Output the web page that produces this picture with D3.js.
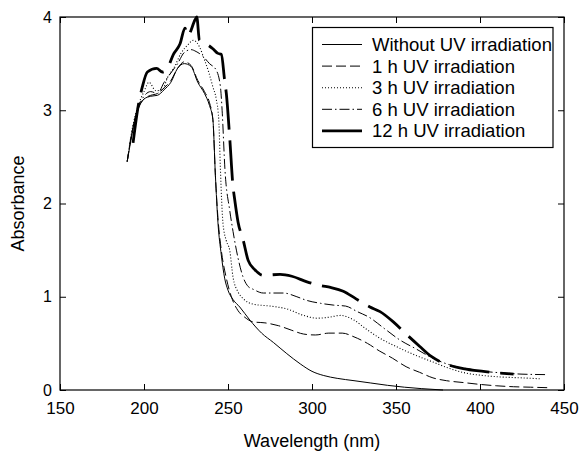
<!DOCTYPE html>
<html><head><meta charset="utf-8">
<script src="https://cdn.jsdelivr.net/npm/d3@7"></script>
<style>
body{margin:0;background:#fff;}
text{font-family:"Liberation Sans",Arial,sans-serif;fill:#000;}
</style></head>
<body><svg id="c" width="581" height="454"></svg>
<script>
// ---- data ----
const seriesNames = ["Without UV irradiation","1 h UV irradiation","3 h UV irradiation","6 h UV irradiation","12 h UV irradiation"];
const xTicks = [150,200,250,300,350,400,450];
const yTicks = [0,1,2,3,4];

const wl0 = [190,193,196,200,204,208,212,216,220,224,228,232,236,239,241,242.5,244,246,248,250,253,257,263,270,277,285,293,300,307,315,325,335,345,355,365,378];
const ab0 = [2.45,2.75,2.98,3.12,3.15,3.16,3.22,3.3,3.45,3.5,3.47,3.3,3.18,3.05,2.9,2.3,1.8,1.45,1.2,1.07,0.97,0.89,0.75,0.61,0.51,0.39,0.28,0.2,0.155,0.125,0.1,0.075,0.05,0.03,0.015,0];

const wl1 = [190,193,196,200,204,208,212,216,220,224,228,232,236,239,241,242.5,244,246,249,252,256,260,265,272,280,288,295,302,310,318,325,333,340,348,356,364,372,380,390,400,410,420,430,440];
const ab1 = [2.45,2.78,3.0,3.12,3.16,3.18,3.24,3.32,3.45,3.52,3.48,3.32,3.2,3.08,2.9,2.3,1.85,1.5,1.2,1.0,0.85,0.78,0.73,0.72,0.69,0.64,0.6,0.59,0.61,0.61,0.57,0.5,0.42,0.34,0.25,0.19,0.13,0.1,0.08,0.06,0.045,0.035,0.03,0.025];

const wl3 = [190,193,196,200,203,207,211,214,218,222,226,229.5,233,236,238.5,241,243,244.5,245.5,247,249,251,253,256,259,265,275,285,295,303,310,317,325,332.5,340,352,362,372,382,392,402,412,425,436];
const ab3 = [2.45,2.8,3.02,3.2,3.3,3.21,3.22,3.35,3.46,3.61,3.7,3.75,3.68,3.54,3.41,3.25,3.12,2.9,2.36,1.79,1.6,1.5,1.21,1.05,0.98,0.92,0.9,0.87,0.8,0.77,0.78,0.8,0.75,0.65,0.56,0.45,0.37,0.3,0.23,0.18,0.155,0.14,0.13,0.12];

const wl6 = [190,193,196,200,204,208,212,216,220,224,228,231,235,239,243,245.5,246.5,248.2,251,253,255,259,262,265,271,283,291,297,305,313,320,327,334,343,352,362,372,382,392,402,412,425,440];
const ab6 = [2.45,2.78,3.0,3.15,3.2,3.18,3.3,3.4,3.5,3.62,3.65,3.63,3.58,3.5,3.43,3.25,3.0,2.36,1.93,1.7,1.5,1.21,1.11,1.08,1.04,1.04,1.0,0.96,0.93,0.91,0.9,0.84,0.78,0.66,0.54,0.44,0.34,0.27,0.23,0.2,0.185,0.17,0.165];

const wl12 = [193.5,196.6,199,202,207.5,211,214,217.5,221.4,224.4,226,230.4,231.4,233,235,238,241,244,246,248,249,251,253,254,256,259,262,266,271,281,288,297,305,311,318.6,326,334.5,340.5,348.4,356,364,371,378,390,402,420];
const ab12 = [2.65,3.05,3.25,3.41,3.45,3.41,3.45,3.6,3.71,3.88,3.8,3.97,4.0,3.75,3.73,3.7,3.66,3.61,3.6,3.32,3.18,2.71,2.18,2.04,1.8,1.61,1.39,1.29,1.23,1.24,1.22,1.16,1.12,1.1,1.06,0.98,0.89,0.84,0.73,0.6,0.47,0.36,0.29,0.23,0.2,0.17];

const seriesWl = [wl0,wl1,wl3,wl6,wl12];
const seriesAb = [ab0,ab1,ab3,ab6,ab12];
const seriesDash = [null,"10,4","1,2","10,3,1.5,3","40,11"];
const seriesWidth = [1,1,1.1,1,2.8];

// ---- layout ----
const svg = d3.select("#c");
const L=60, R=564, T=17, B=390;
const x = d3.scaleLinear().domain([150,450]).range([L,R]);
const y = d3.scaleLinear().domain([0,4]).range([B,T]);

const g = svg.append("g");
// axes with inward ticks
g.append("g").attr("transform",`translate(0,${B})`)
  .call(d3.axisBottom(x).tickValues(xTicks).tickSizeInner(-6).tickSizeOuter(0).tickPadding(12).tickFormat(d3.format("d")))
  .call(s=>{s.select(".domain").remove(); s.selectAll("text").attr("font-size",17).style("font-family","Liberation Sans, Arial, sans-serif");});
g.append("g").attr("transform",`translate(${L},0)`)
  .call(d3.axisLeft(y).tickValues(yTicks).tickSizeInner(-6).tickSizeOuter(0).tickPadding(8).tickFormat(d3.format("d")))
  .call(s=>{s.select(".domain").remove(); s.selectAll("text").attr("font-size",16).style("font-family","Liberation Sans, Arial, sans-serif");});
g.append("g").attr("transform",`translate(0,${T})`)
  .call(d3.axisTop(x).tickValues(xTicks).tickSizeInner(-6).tickSizeOuter(0).tickFormat(""))
  .call(s=>s.select(".domain").remove());
g.append("g").attr("transform",`translate(${R},0)`)
  .call(d3.axisRight(y).tickValues(yTicks).tickSizeInner(-6).tickSizeOuter(0).tickFormat(""))
  .call(s=>s.select(".domain").remove());
svg.selectAll(".tick line").attr("stroke","#000");

// curves
const line = d3.line().x(d=>x(d[0])).y(d=>y(d[1])).curve(d3.curveMonotoneX);
seriesWl.forEach((w,i)=>{
  const pts = w.map((v,k)=>[v,seriesAb[i][k]]);
  g.append("path").attr("d",line(pts)).attr("fill","none").attr("stroke","#000")
   .attr("stroke-width",seriesWidth[i]).attr("stroke-dasharray",seriesDash[i]);
});

// frame
g.append("rect").attr("x",L).attr("y",T).attr("width",R-L).attr("height",B-T)
  .attr("fill","none").attr("stroke","#000").attr("stroke-width",1.2);

// legend
const lg = svg.append("g");
lg.append("rect").attr("x",312.5).attr("y",27.5).attr("width",240.5).attr("height",120)
  .attr("fill","#fff").attr("stroke","#000").attr("stroke-width",1.2);
seriesNames.forEach((n,i)=>{
  const yy = 44.5 + i*21.6;
  lg.append("line").attr("x1",322).attr("x2",362).attr("y1",yy).attr("y2",yy)
    .attr("stroke","#000").attr("stroke-width",seriesWidth[i]).attr("stroke-dasharray",seriesDash[i]);
  lg.append("text").attr("x",372).attr("y",yy).attr("dy","0.35em").attr("font-size",18.5).text(n);
});

// axis titles
svg.append("text").attr("x",(L+R)/2).attr("y",447).attr("text-anchor","middle").attr("font-size",18).text("Wavelength (nm)");
svg.append("text").attr("transform",`translate(24,${(T+B)/2}) rotate(-90)`).attr("text-anchor","middle").attr("font-size",18).text("Absorbance");
</script></body></html>
